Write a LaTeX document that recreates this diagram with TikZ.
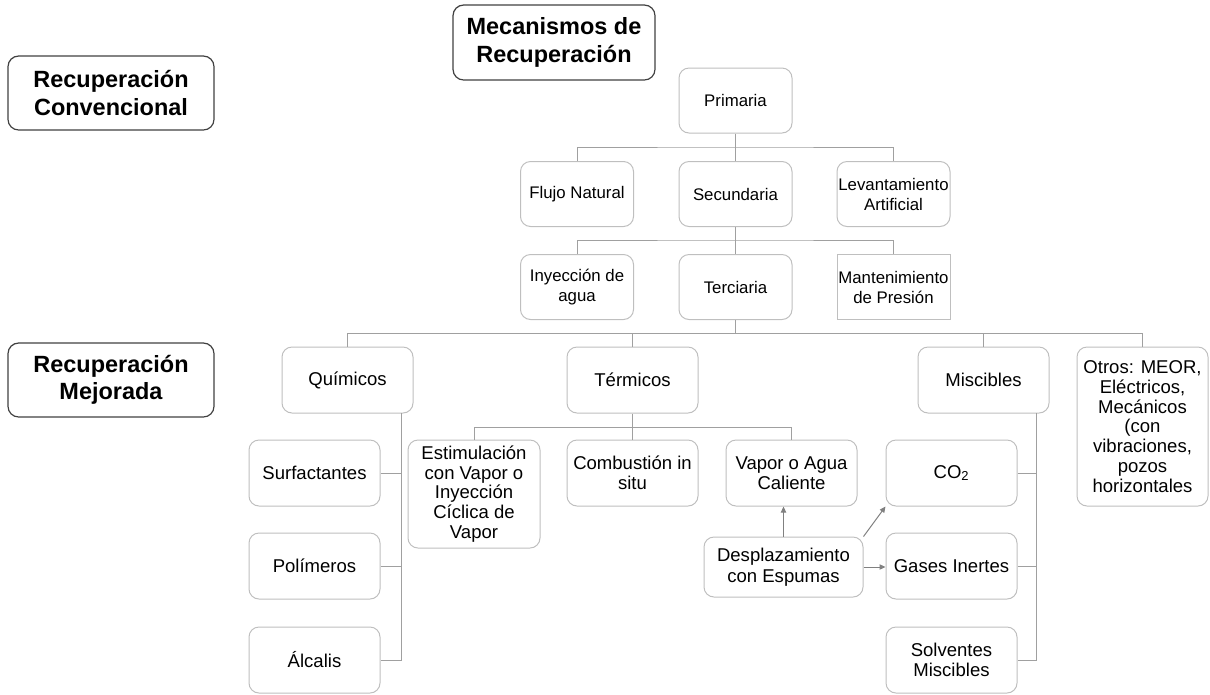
\documentclass[tikz,border=0pt]{standalone}
\usepackage{fontspec}
\setmainfont{Liberation Sans}
\usetikzlibrary{arrows.meta}
\definecolor{boxgray}{RGB}{191,191,191}
\definecolor{linegray}{RGB}{160,160,160}
\definecolor{arrowgray}{RGB}{128,128,128}
\tikzset{
  head/.style={draw=black!75, line width=0.9pt, rounded corners=8pt, align=center,
    inner sep=0pt, minimum width=154.5pt, minimum height=55.5pt,
    font=\fontsize{17.6}{20.5}\selectfont\bfseries},
  upper/.style={draw=boxgray, line width=0.75pt, rounded corners=7.5pt, align=center,
    inner sep=0pt, minimum width=84.75pt, minimum height=48.75pt,
    font=\fontsize{12.6}{15}\selectfont},
  lower/.style={upper, minimum width=98.25pt, minimum height=49.5pt,
    font=\fontsize{13.9}{14.8}\selectfont},
  link/.style={draw=linegray, line width=0.75pt},
  push/.style={draw=arrowgray, line width=0.75pt, -{Triangle[length=4.5pt,width=4pt]}}
}
\begin{document}
\begin{tikzpicture}[x=0.75pt, y=-0.75pt]
    \useasboundingbox (0,0) rectangle (1210,694);

    % heading boxes
    \node [head, minimum width=151.5pt, minimum height=56.25pt] (mecan) at (554,42.5) {Mecanismos de\\Recuperación};
    \node [head] (conv) at (111,93) {Recuperación\\Convencional};
    \node [head] (mejor) at (111,380) {Recuperación\\Mejorada};

    % conventional recovery
    \node [upper] (prim) at (735.5,100.5) {Primaria};
    \node [upper] (flujo) at (577,194) {Flujo Natural};
    \node [upper] (secu) at (735.5,194) {Secundaria};
    \node [upper] (levant) at (893.5,194) {Levantamiento\\Artificial};
    \node [upper] (inyec) at (577,287) {Inyección de\\agua};
    \node [upper] (terc) at (735.5,287) {Terciaria};
    \node [upper, sharp corners] (mant) at (893.5,287) {Mantenimiento\\de Presión};

    % enhanced recovery
    \node [lower] (quim) at (347.5,380) {Químicos};
    \node [lower] (term) at (632.5,380) {Térmicos};
    \node [lower] (misc) at (983.5,380) {Miscibles};
    \node [lower, minimum height=119.25pt] (otros) at (1142.5,426.5) {Otros: MEOR,\\Eléctricos,\\Mecánicos\\(con\\vibraciones,\\pozos\\horizontales};

    \node [lower] (surf) at (314.5,473) {Surfactantes};
    \node [lower] (polim) at (314.5,566) {Polímeros};
    \node [lower] (alcal) at (314.5,660) {Álcalis};

    \node [lower, minimum width=99pt, minimum height=81pt] (estim) at (474,494) {Estimulación\\con Vapor o\\Inyección\\Cíclica de\\Vapor};
    \node [lower] (comb) at (632.5,473) {Combustión in\\situ};
    \node [lower] (vapor) at (791.5,473) {Vapor o Agua\\Caliente};
    \node [lower, minimum width=119.25pt, minimum height=45pt, font=\fontsize{13.9}{16}\selectfont] (desp) at (783.5,567) {Desplazamiento\\con Espumas};

    \node [lower] (co2) at (951.5,473) {CO\textsubscript{2}};
    \node [lower] (gases) at (951.5,566) {Gases Inertes};
    \node [lower] (solv) at (951.5,660) {Solventes\\Miscibles};

    % joints of the tree
    \coordinate (j1) at (735.5,147);
    \coordinate (j2) at (735.5,240);
    \coordinate (j3) at (735.5,333);
    \coordinate (j4) at (632.5,427);
    \coordinate (q) at (401,413);
    \coordinate (m) at (1036,413);

    % connectors
    \draw [link] (prim) -- (secu);
    \draw [link] (flujo.north) |- (j1) -| (levant.north);
    \draw [link] (secu) -- (terc);
    \draw [link] (inyec.north) |- (j2) -| (mant.north);
    \draw [link] (terc.south) -- (j3);
    \draw [link] (quim.north) |- (j3) -| (otros.north);
    \draw [link] (term.north) -- (term.north |- j3);
    \draw [link] (misc.north) -- (misc.north |- j3);

    \draw [link] (q) |- (alcal.east);
    \foreach \n in {surf,polim}
      \draw [link] (\n.east) -- (\n.east -| q);

    \draw [link] (term) -- (comb);
    \draw [link] (estim.north) |- (j4) -| (vapor.north);

    \draw [link] (m) |- (solv.east);
    \foreach \n in {co2,gases}
      \draw [link] (\n.east) -- (\n.east -| m);

    % foam displacement arrows
    \draw [push] (desp.north) -- (desp.north |- vapor.south);
    \draw [push] (desp.north east) -- (co2.south west);
    \draw [push] (desp.east) -- (desp.east -| gases.west);
\end{tikzpicture}
\end{document}
